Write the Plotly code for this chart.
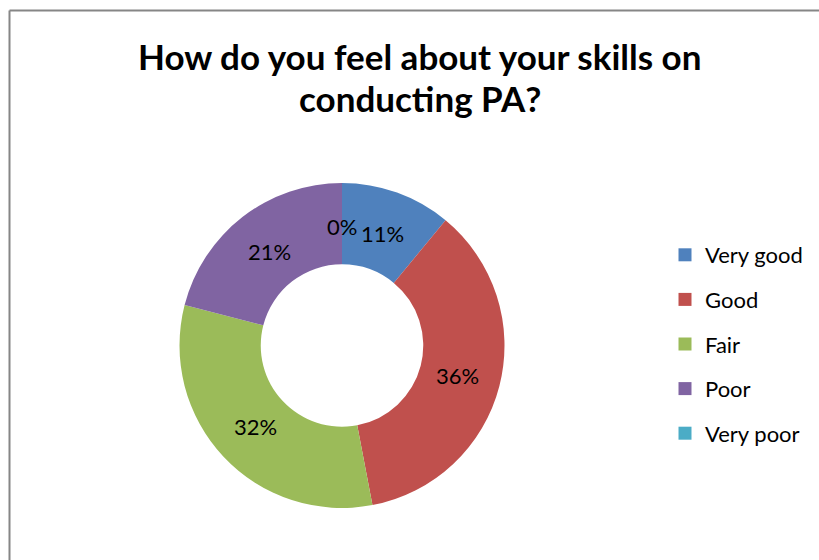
import math
import plotly.graph_objects as go

categories = ["Very good", "Good", "Fair", "Poor", "Very poor"]
percent_values = [11, 36, 32, 21, 0]
slice_colors = ["#4F81BD", "#C0504D", "#9BBB59", "#8064A2", "#4BACC6"]
title_lines = ["How do you feel about your skills on", "conducting PA?"]

W, H = 819, 560
FONT = "Lato, 'Open Sans', sans-serif"

# donut geometry in pixels
CX, CY = 342, 345.5
R_OUT = 162.5
HOLE = 0.5
R_LABEL = 119

fig = go.Figure()

fig.add_trace(go.Pie(
    labels=categories,
    values=percent_values,
    hole=HOLE,
    sort=False,
    direction="clockwise",
    rotation=0,
    marker=dict(colors=slice_colors, line=dict(width=0)),
    textinfo="none",
    hoverinfo="label+percent",
    showlegend=False,
    domain=dict(x=[(CX - R_OUT) / W, (CX + R_OUT) / W],
                y=[1 - (CY + R_OUT) / H, 1 - (CY - R_OUT) / H]),
))

# percentage labels at the middle of each ring segment
annotations = []
total = sum(percent_values)
cum = 0
for v in percent_values:
    mid = (cum + v / 2) / total * 2 * math.pi
    cum += v
    px = CX + R_LABEL * math.sin(mid)
    py = CY - R_LABEL * math.cos(mid)
    annotations.append(dict(
        x=px / W, y=1 - py / H, xref="paper", yref="paper",
        text=f"{v}%", showarrow=False, xanchor="center", yanchor="middle",
        font=dict(family=FONT, size=22, color="black"),
    ))

# two-line title
for line, yc in zip(title_lines, [56, 98]):
    annotations.append(dict(
        x=420 / W, y=1 - yc / H, xref="paper", yref="paper",
        text=f"<b>{line}</b>", showarrow=False,
        xanchor="center", yanchor="middle",
        font=dict(family=FONT, size=35, color="black"),
    ))

# legend entries, one group each so the rows are spaced apart
for name, color in zip(categories, slice_colors):
    fig.add_trace(go.Scatter(
        x=[None], y=[None], mode="markers", name=name,
        legendgroup=name,
        marker=dict(symbol="square", size=13, color=color),
    ))

fig.update_layout(
    width=W, height=H,
    margin=dict(l=0, r=0, t=0, b=0),
    paper_bgcolor="white",
    plot_bgcolor="white",
    xaxis=dict(visible=False),
    yaxis=dict(visible=False),
    annotations=annotations,
    legend=dict(
        x=665 / W, xanchor="left",
        y=1 - 234 / H, yanchor="top",
        font=dict(family=FONT, size=22, color="black"),
        tracegroupgap=13,
        bgcolor="rgba(0,0,0,0)",
    ),
    shapes=[
        dict(type="line", xref="paper", yref="paper",
             x0=9.5 / W, x1=1.2, y0=1 - 10.5 / H, y1=1 - 10.5 / H,
             line=dict(color="#868686", width=2)),
        dict(type="line", xref="paper", yref="paper",
             x0=9.5 / W, x1=9.5 / W, y0=1 - 10.5 / H, y1=-0.2,
             line=dict(color="#868686", width=2)),
    ],
)

fig.write_html("out.html")
